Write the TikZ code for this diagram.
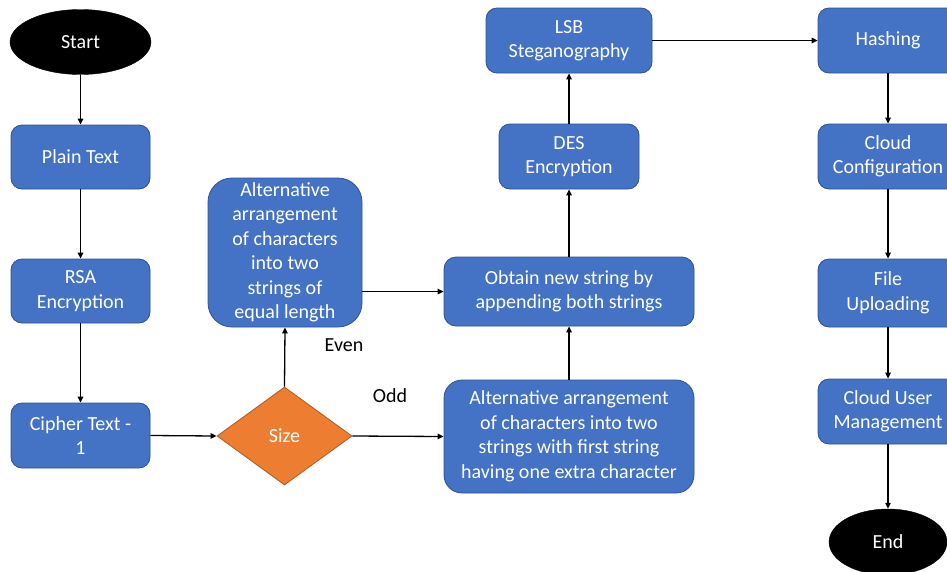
\documentclass[tikz,border=0pt]{standalone}
\usepackage{fontspec}
\setmainfont{Carlito}
\usetikzlibrary{shapes.geometric,arrows.meta}
\definecolor{boxblue}{HTML}{4472C4}
\definecolor{boxedge}{HTML}{2F528F}
\definecolor{dorange}{HTML}{ED7D31}
\definecolor{dedge}{HTML}{AE5A21}
\tikzset{
  txt/.style={font=\fontsize{20}{24.5}\selectfont, text=white, align=center},
  bluebox/.style={txt, rectangle, fill=boxblue, draw=boxedge, line width=0.8pt, inner sep=0pt},
  term/.style={txt, ellipse, fill=black, draw=black, inner sep=0pt},
  decision/.style={txt, diamond, fill=dorange, draw=dedge, line width=0.8pt, inner sep=0pt},
  lbl/.style={font=\fontsize{20}{24.5}\selectfont, text=black},
  arr/.style={-{Triangle[length=6pt,width=5.5pt]}, line width=1.3pt, black}
}
\begin{document}
\begin{tikzpicture}[x=1pt,y=-1pt]
\useasboundingbox (0,0) rectangle (947,571);
% left column
\node[term, minimum width=141pt, minimum height=65pt] (start) at (80.5,42) {Start};
\node[bluebox, rounded corners=11pt, minimum width=139pt, minimum height=64pt] (plain) at (80.5,157) {Plain Text};
\node[bluebox, rounded corners=11pt, minimum width=139pt, minimum height=64pt] (rsa) at (80.5,291) {RSA\\Encryption};
\node[bluebox, rounded corners=11pt, minimum width=139pt, minimum height=65pt] (cipher) at (80.5,435.5) {Cipher Text -\\1};
% middle
\node[decision, minimum width=135pt, minimum height=98pt, shape aspect=1.38] (size) at (284.5,436) {Size};
\node[bluebox, rounded corners=24pt, minimum width=154pt, minimum height=149pt] (even) at (285,252.5) {Alternative\\arrangement\\of characters\\into two\\strings of\\equal length};
\node[bluebox, rounded corners=12pt, minimum width=250pt, minimum height=69pt] (obtain) at (569,291.5) {Obtain new string by\\appending both strings};
\node[bluebox, rounded corners=18pt, minimum width=250pt, minimum height=113pt] (odd) at (569,436.5) {Alternative arrangement\\of characters into two\\strings with first string\\having one extra character};
\node[bluebox, rounded corners=11pt, minimum width=140pt, minimum height=65pt] (des) at (569,156.5) {DES\\Encryption};
\node[bluebox, rounded corners=11pt, minimum width=166pt, minimum height=65pt] (lsb) at (569,40.5) {LSB\\Steganography};
% right column
\node[bluebox, rounded corners=11pt, minimum width=140pt, minimum height=65pt] (hash) at (888,40.5) {Hashing};
\node[bluebox, rounded corners=11pt, minimum width=140pt, minimum height=65pt] (cloud) at (888,156.5) {Cloud\\Configuration};
\node[bluebox, rounded corners=11pt, minimum width=140pt, minimum height=68pt] (file) at (888,293) {File\\Uploading};
\node[bluebox, rounded corners=11pt, minimum width=140pt, minimum height=65pt] (cum) at (888,411.5) {Cloud User\\Management};
\node[term, minimum width=118pt, minimum height=66pt] (end) at (888,542) {End};
% labels
\node[lbl] (evenlbl) at (344,345) {Even};
\node[lbl] (oddlbl) at (390,396) {Odd};
% connectors
\draw[arr] (start) -- (plain);
\draw[arr] (plain) -- (rsa);
\draw[arr] (rsa) -- (cipher);
\draw[arr] (cipher.east) -- (size.west);
\draw[arr] (size.north) -- (even.south);
\draw[arr] (size.east) -- (odd.west);
\draw[arr] (even.east |- obtain.west) -- (obtain.west);
\draw[arr] (odd) -- (obtain);
\draw[arr] (obtain) -- (des);
\draw[arr] (des) -- (lsb);
\draw[arr] (lsb) -- (hash);
\draw[arr] (hash) -- (cloud);
\draw[arr] (cloud) -- (file);
\draw[arr] (file) -- (cum);
\draw[arr] (cum) -- (end);
\end{tikzpicture}
\end{document}
